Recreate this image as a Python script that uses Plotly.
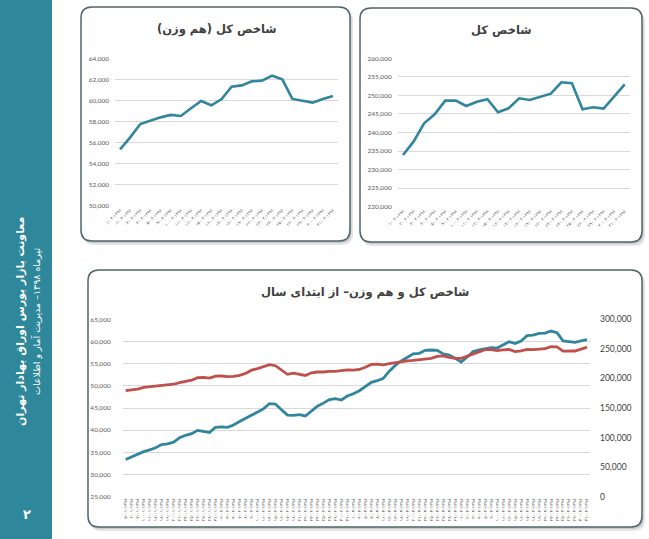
import plotly.graph_objects as go

W, H = 649, 539
FA = str.maketrans("0123456789", "۰۱۲۳۴۵۶۷۸۹")

# trading days of 1398 (farvardin..tir)
days_farvardin = [5, 6, 7, 10, 11, 17, 18, 19, 20, 21, 24, 25, 26, 27, 28, 31]
days_ordibehesht = [2, 3, 4, 7, 8, 9, 10, 11, 14, 15, 16, 17, 18, 21, 22, 23, 24, 25, 28, 29, 30, 31]
days_khordad = [1, 4, 5, 7, 8, 11, 12, 13, 18, 19, 20, 21, 22, 25, 26, 27, 28, 29]
days_tir = [1, 2, 3, 4, 5, 9, 10, 11, 12, 15, 16, 17, 18, 19, 22, 23, 24, 25, 26, 29, 30, 31]

# tir values
hamvazn_tir = [55350, 56490, 57760, 58080, 58390, 58620, 58520, 59250, 59950, 59540, 60100,
               61300, 61430, 61810, 61880, 62350, 62000, 60140, 59980, 59790, 60140, 60420]
kol_tir = [233930, 237530, 242470, 244900, 248580, 248580, 247150, 248300, 248950, 245440, 246520,
           249210, 248760, 249660, 250470, 253530, 253260, 246250, 246790, 246430, 249660, 252990]

# farvardin..khordad values (year to date chart)
hamvazn_pre = [33400, 34000, 34600, 35150, 35550, 36050, 36750, 36900, 37300, 38300, 38850,
               39200, 39950, 39750, 39500, 40650, 40750, 40650, 41150, 41950, 42650, 43400,
               44000, 44800, 46000, 45900, 44600, 43400, 43350, 43500, 43200, 44200, 45400,
               46100, 46900, 47100, 46800, 47700, 48200, 48900, 49900, 50800, 51150, 51700,
               53300, 54600, 55600, 56400, 57200, 57330, 58000, 58080, 58000, 57180, 56950, 56200]
kol_pre = [179300, 180200, 182000, 184800, 186100, 186600, 187900, 188800, 190200, 193000, 195400,
           197000, 201300, 201900, 200600, 203900, 204100, 203100, 203600, 205300, 208500, 214000,
           216500, 220000, 223200, 221500, 214000, 207000, 209000, 206500, 205000, 209500, 210900,
           210900, 212000, 211800, 213500, 214300, 214100, 215200, 219000, 223800, 224100, 223000,
           225000, 226900, 228000, 229800, 230600, 231600, 233200, 234000, 237400, 238000, 235700, 234000]

title_hamvazn = "شاخص کل (هم وزن)"
title_kol = "شاخص کل"
title_ytd = "شاخص کل و هم وزن– از ابتدای سال"
side_line1 = "معاونت بازار بورس اوراق بهادار تهران"
side_line2 = "تیرماه ۱۳۹۸– مدیریت آمار و اطلاعات"
page_no = "۲"


def lab(m, d):
    return f"{d:02d}-{m:02d}-1398".translate(FA)


tir_labels = [lab(4, d) for d in days_tir]
ytd_labels = ([lab(1, d) for d in days_farvardin] + [lab(2, d) for d in days_ordibehesht]
              + [lab(3, d) for d in days_khordad] + tir_labels)
hamvazn_ytd = hamvazn_pre + hamvazn_tir
kol_ytd = kol_pre + kol_tir

TEAL = "#31859C"
SIDE = "#2F879B"
RED = "#C0504D"
GRID = "#D9D9D9"
TXT = "#595959"


def fx(x):
    return x / W


def fy(y):
    return 1 - y / H


def rr_path(x0, y0, x1, y1, r):
    segs = [
        ("M", (x0 + r, y0)), ("L", (x1 - r, y0)), ("Q", (x1, y0), (x1, y0 + r)),
        ("L", (x1, y1 - r)), ("Q", (x1, y1), (x1 - r, y1)), ("L", (x0 + r, y1)),
        ("Q", (x0, y1), (x0, y1 - r)), ("L", (x0, y0 + r)), ("Q", (x0, y0), (x0 + r, y0)),
    ]
    s = ""
    for cmd, *pts in segs:
        s += cmd + " ".join(f"{fx(x):.5f},{fy(y):.5f}" for x, y in pts) + " "
    return s + "Z"


fig = go.Figure()

fig.add_trace(go.Scatter(x=tir_labels, y=hamvazn_tir, mode="lines", xaxis="x", yaxis="y",
                         line=dict(color=TEAL, width=2.6)))
fig.add_trace(go.Scatter(x=tir_labels, y=kol_tir, mode="lines", xaxis="x2", yaxis="y2",
                         line=dict(color=TEAL, width=2.6)))
fig.add_trace(go.Scatter(x=ytd_labels, y=hamvazn_ytd, mode="lines", xaxis="x3", yaxis="y3",
                         line=dict(color=TEAL, width=2.8)))
fig.add_trace(go.Scatter(x=ytd_labels, y=kol_ytd, mode="lines", xaxis="x3", yaxis="y4",
                         line=dict(color=RED, width=2.8)))

xfont = dict(family="DejaVu Sans", size=4.5, color=TXT)
yfont = dict(family="Lato", size=6.5, color=TXT)


def xax(domain, labels, anchor, angle, **kw):
    return dict(domain=domain, anchor=anchor, type="category", range=[-0.5, len(labels) - 0.5],
                tickmode="array", tickvals=labels, ticktext=labels, tickangle=angle,
                tickfont=xfont, showgrid=False, showline=False, zeroline=False, ticks="",
                automargin=False, fixedrange=True, **kw)


def yax(domain, rng, dtick, anchor, **kw):
    d = dict(domain=domain, anchor=anchor, range=rng, dtick=dtick, tickformat=",d",
             showgrid=True, gridcolor=GRID, gridwidth=1, zeroline=False, showline=False,
             ticks="", tickfont=yfont, automargin=False, fixedrange=True)
    d.update(kw)
    return d


fig.update_layout(
    width=W, height=H, autosize=False, template="none",
    margin=dict(l=0, r=0, t=0, b=0, pad=0),
    paper_bgcolor="white", plot_bgcolor="rgba(0,0,0,0)",
    showlegend=False,
    xaxis=xax([fx(115), fx(338)], tir_labels, "y", -45),
    yaxis=yax([fy(205.7), fy(58.3)], [50000, 64000], 2000, "x", ticklabelstandoff=5),
    xaxis2=xax([fx(397.7), fx(630)], tir_labels, "y2", -45),
    yaxis2=yax([fy(206.7), fy(58.3)], [220000, 260000], 5000, "x2", ticklabelstandoff=5),
    xaxis3=xax([fx(122.7), fx(590)], ytd_labels, "y3", -90),
    yaxis3=yax([fy(496.7), fy(319.3)], [25000, 65000], 5000, "x3", ticklabelstandoff=11),
    yaxis4=yax([fy(496.7), fy(319.3)], [0, 300000], 50000, "x3", overlaying="y3", side="right",
               showgrid=False, ticklabelstandoff=9,
               tickfont=dict(family="Lato", size=8.5, color="#404040")),
)

shapes = []
# sidebar
shapes.append(dict(type="rect", xref="paper", yref="paper", x0=0, x1=fx(52), y0=0, y1=1,
                   fillcolor=SIDE, line=dict(width=0), layer="below"))
panels = [(81, 7, 350, 241), (360, 8, 642, 242), (88, 270, 642, 527)]
for x0, y0, x1, y1 in panels:
    shapes.append(dict(type="path", xref="paper", yref="paper", layer="below",
                       path=rr_path(x0 + 2, y0 + 3, x1 + 3, y1 + 4, 11),
                       fillcolor="rgba(0,0,0,0.10)", line=dict(width=0)))
    shapes.append(dict(type="path", xref="paper", yref="paper", layer="below",
                       path=rr_path(x0 + 1, y0 + 1.5, x1 + 1.5, y1 + 2, 11),
                       fillcolor="rgba(0,0,0,0.12)", line=dict(width=0)))
    shapes.append(dict(type="path", xref="paper", yref="paper", layer="below",
                       path=rr_path(x0, y0, x1, y1, 11),
                       fillcolor="white", line=dict(color="#52656F", width=1.5)))
fig.update_layout(shapes=shapes)

tfont = dict(family="DejaVu Sans", size=11.5, color="#404040")
ann = [
    dict(text="<b>" + title_hamvazn + "</b>", x=fx(217), y=fy(30)),
    dict(text="<b>" + title_kol + "</b>", x=fx(501), y=fy(30)),
    dict(text="<b>" + title_ytd + "</b>", x=fx(365), y=fy(292)),
]
for a in ann:
    a.update(xref="paper", yref="paper", showarrow=False, font=tfont,
             xanchor="center", yanchor="middle")
ann += [
    dict(text="<b>" + side_line1 + "</b>", x=fx(20), y=fy(322), textangle=-90,
         font=dict(family="DejaVu Sans", size=11, color="white")),
    dict(text=side_line2, x=fx(36), y=fy(322), textangle=-90,
         font=dict(family="DejaVu Sans", size=9.5, color="white")),
    dict(text="<b>" + page_no + "</b>", x=fx(27), y=fy(514),
         font=dict(family="DejaVu Sans", size=13, color="white")),
]
for a in ann[3:]:
    a.update(xref="paper", yref="paper", showarrow=False, xanchor="center", yanchor="middle")
fig.update_layout(annotations=ann)

# drop the default 8px page margin so the figure sits at the window corner
fig.write_html("out.html", config={"displayModeBar": False},
               post_script="document.body.style.margin='0';")
